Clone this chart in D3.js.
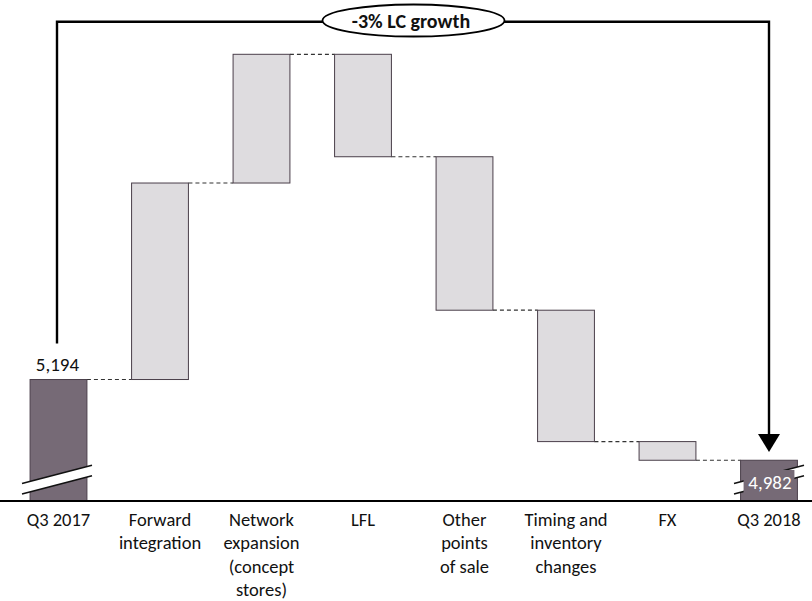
<!DOCTYPE html>
<html>
<head>
<meta charset="utf-8">
<script src="https://cdn.jsdelivr.net/npm/d3@7"></script>
<style>
  html, body { margin: 0; padding: 0; background: #fff; }
  svg { display: block; font-family: Carlito, Lato, "Liberation Sans", sans-serif; }
</style>
</head>
<body>
<svg id="chart" width="812" height="601"></svg>
<script>
// Sales bridge, Q3 2017 -> Q3 2018 (in local currency, broken axis)
const categories = [
  ["Q3 2017"],
  ["Forward", "integration"],
  ["Network", "expansion", "(concept", "stores)"],
  ["LFL"],
  ["Other", "points", "of sale"],
  ["Timing and", "inventory", "changes"],
  ["FX"],
  ["Q3 2018"]
];
const startValue = 5194;
const endValue = 4982;
const deltas = [516, 338, -269, -403, -345, -49];
const totalLabels = ["5,194", "4,982"];
const growthLabel = "-3% LC growth";

const W = 812, H = 601;
const axisY = 501;
const svg = d3.select("#chart");

// running totals for each step
const steps = [];
let run = startValue;
steps.push({ i: 0, type: "total", y0: null, y1: startValue });
deltas.forEach((d, k) => {
  steps.push({ i: k + 1, type: "delta", y0: run, y1: run + d });
  run += d;
});
steps.push({ i: 7, type: "total", y0: null, y1: endValue });

const x = d3.scaleBand()
  .domain(d3.range(categories.length))
  .range([7.75, 819.75])
  .paddingInner(0.44)
  .paddingOuter(0.22);

// broken value axis: the baseline sits well above zero
const y = d3.scaleLinear().domain([4875, 6048]).range([axisY, 54.3]);

const totalFill = "#766a76", deltaFill = "#dedcdf", edge = "#4a3f4a";

// connectors between consecutive bars
const levels = [startValue];
let acc = startValue;
deltas.forEach(d => { acc += d; levels.push(acc); });
svg.append("g").selectAll("line").data(levels).join("line")
  .attr("x1", (v, k) => x(k) + x.bandwidth())
  .attr("x2", (v, k) => x(k + 1))
  .attr("y1", v => y(v)).attr("y2", v => y(v))
  .attr("stroke", "#333").attr("stroke-width", 1.2)
  .attr("stroke-dasharray", "4,3");

// bars
svg.append("g").selectAll("rect").data(steps).join("rect")
  .attr("x", d => x(d.i))
  .attr("width", x.bandwidth())
  .attr("y", d => d.type === "total" ? y(d.y1) : y(Math.max(d.y0, d.y1)))
  .attr("height", d => d.type === "total" ? axisY - y(d.y1) : Math.abs(y(d.y0) - y(d.y1)))
  .attr("fill", d => d.type === "total" ? totalFill : deltaFill)
  .attr("stroke", edge).attr("stroke-width", 1);

// axis-break bands across the total bars
function breakBand(cx, yLeft) {
  const half = 35, slope = 0.26, gap = 10.5;
  const xl = cx - half, xr = cx + half;
  const yl = yLeft, yr = yLeft - 2 * half * slope;
  const g = svg.append("g");
  g.append("path")
    .attr("d", `M${xl},${yl}L${xr},${yr}L${xr},${yr + gap}L${xl},${yl + gap}Z`)
    .attr("fill", "#fff");
  g.append("line").attr("x1", xl).attr("y1", yl).attr("x2", xr).attr("y2", yr)
    .attr("stroke", "#111").attr("stroke-width", 1.6);
  g.append("line").attr("x1", xl).attr("y1", yl + gap).attr("x2", xr).attr("y2", yr + gap)
    .attr("stroke", "#111").attr("stroke-width", 1.6);
}
const c0 = x(0) + x.bandwidth() / 2;
const c7 = x(7) + x.bandwidth() / 2;
breakBand(c0 - 1.5, 483.5);
breakBand(c7, 483.5);

// patch of bar colour behind the end label
svg.append("rect")
  .attr("x", x(7) + 3).attr("width", x.bandwidth() - 6)
  .attr("y", 470).attr("height", 24)
  .attr("fill", totalFill);

// value labels
svg.append("text").attr("x", c0 - 1).attr("y", y(startValue) - 9)
  .attr("text-anchor", "middle").attr("font-size", 19).attr("fill", "#111")
  .text(totalLabels[0]);
svg.append("text").attr("x", c7 + 1).attr("y", 489)
  .attr("text-anchor", "middle").attr("font-size", 19).attr("fill", "#fff")
  .text(totalLabels[1]);

// category axis
svg.append("line").attr("x1", 0).attr("x2", W).attr("y1", axisY).attr("y2", axisY)
  .attr("stroke", "#000").attr("stroke-width", 2);
const lab = svg.append("g").attr("font-size", 18.5).attr("fill", "#111").attr("text-anchor", "middle");
categories.forEach((lines, k) => {
  const cx = x(k) + x.bandwidth() / 2;
  const t = lab.append("text").attr("x", cx).attr("y", 526);
  lines.forEach((s, j) => t.append("tspan")
    .attr("x", cx).attr("dy", j === 0 ? 0 : 23.3).text(s));
});

// growth bracket from start total to end total
const topY = 21.7;
svg.append("path")
  .attr("d", `M${c0 - 1.5},${y(startValue) - 36}V${topY}H${c7}V${436}`)
  .attr("fill", "none").attr("stroke", "#000").attr("stroke-width", 2.4);
svg.append("path")
  .attr("d", `M${c7 - 11},${434}L${c7 + 11},${434}L${c7},${452}Z`)
  .attr("fill", "#000");
svg.append("ellipse").attr("cx", 413.5).attr("cy", 20.5).attr("rx", 91).attr("ry", 16)
  .attr("fill", "#fff").attr("stroke", "#000").attr("stroke-width", 1.8);
svg.append("text").attr("x", 411).attr("y", 27.5).attr("text-anchor", "middle")
  .attr("font-size", 20).attr("font-weight", "bold").attr("fill", "#111")
  .text(growthLabel);
</script>
</body>
</html>
